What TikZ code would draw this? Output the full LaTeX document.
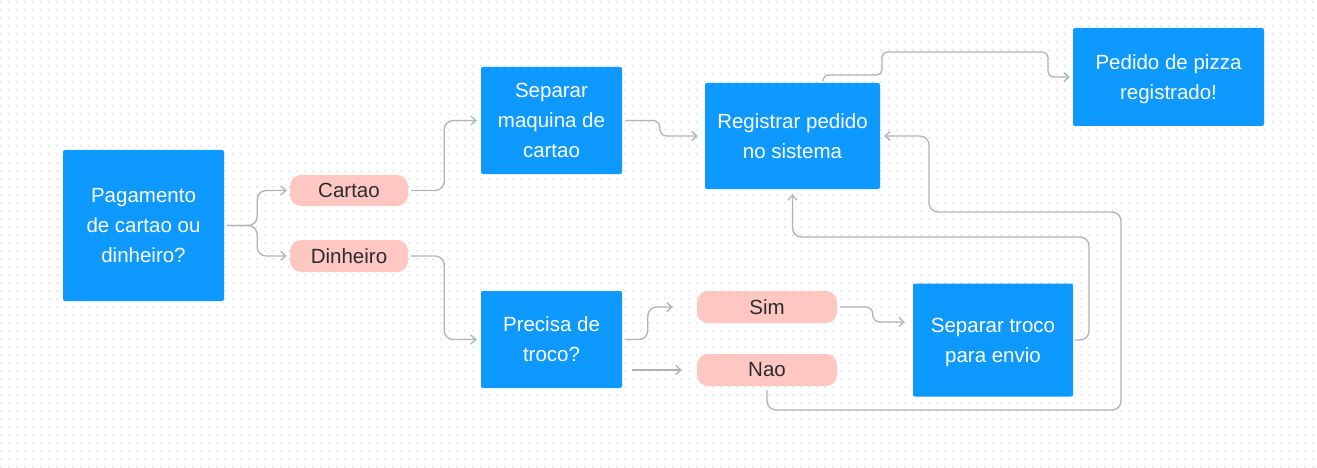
\documentclass[tikz,border=0pt]{standalone}
\usepackage{fontspec}
\setmainfont{Liberation Sans}
\usetikzlibrary{arrows.meta}
\definecolor{boxblue}{HTML}{0D99FF}
\definecolor{pillpink}{HTML}{FFC7C2}
\definecolor{conncol}{HTML}{B3B3B3}
\definecolor{dotcol}{HTML}{EBEBEB}
\definecolor{pilltext}{HTML}{2C2C2C}
\begin{document}
\begin{tikzpicture}[x=1pt,y=-1pt,
  bluebox/.style={fill=boxblue, text=white, rounded corners=2pt, inner sep=0pt, align=center, text depth=0pt, font=\fontsize{20.5}{30}\selectfont, execute at begin node={\rule{0pt}{22pt}}},
  pill/.style={fill=pillpink, text=pilltext, rounded corners=11pt, inner sep=0pt, font=\fontsize{20.5}{24}\selectfont},
  conn/.style={draw=conncol, line width=1.3pt, rounded corners=9pt, -{Straight Barb[length=5pt,width=9pt]}},
  dotrow/.style={draw=dotcol, line width=2pt, dash pattern=on 2pt off 6pt}
]
\useasboundingbox (0,0) rectangle (1317,468);
\fill[white] (0,0) rectangle (1317,468);
\foreach \j in {0,...,58} \draw[dotrow] (0,2.5+8*\j) -- (1317,2.5+8*\j);

\node[bluebox, minimum width=161pt, minimum height=151pt] (pag) at (143.5,225.5) {Pagamento\\de cartao ou\\dinheiro?};
\node[bluebox, minimum width=141pt, minimum height=107pt] (sepmaq) at (551.5,120.5) {Separar\\maquina de\\cartao};
\node[bluebox, minimum width=175pt, minimum height=106pt] (reg) at (792.5,136) {Registrar pedido\\no sistema};
\node[bluebox, minimum width=191pt, minimum height=98pt] (ped) at (1168.5,77) {Pedido de pizza\\registrado!};
\node[bluebox, minimum width=141pt, minimum height=97pt] (pre) at (551.5,339.5) {Precisa de\\troco?};
\node[bluebox, minimum width=160pt, minimum height=113pt] (st) at (993,340) {Separar troco\\para envio};
\node[pill, minimum width=118pt, minimum height=31pt] (car) at (349,190.5) {Cartao};
\node[pill, minimum width=118pt, minimum height=32pt] (din) at (349,256) {Dinheiro};
\node[pill, minimum width=140pt, minimum height=32pt] (sim) at (767,307) {Sim};
\node[pill, minimum width=140pt, minimum height=32pt] (nao) at (767,370) {Nao};

\draw[conn] ([xshift=3pt]pag.east) -- ++(30,0) |- ([xshift=-3pt]car.west);
\draw[conn] ([xshift=3pt]pag.east) -- ++(30,0) |- ([xshift=-3pt]din.west);
\draw[conn] ([xshift=3pt]car.east) -- ++(33,0) |- ([xshift=-4pt]sepmaq.west);
\draw[conn] ([xshift=3pt]din.east) -- ++(33,0) |- ([xshift=-4pt]pre.west);
\draw[conn, rounded corners=7pt] ([xshift=3pt]sepmaq.east) -| ([xshift=-45pt]reg.west) -- ([xshift=-7pt]reg.west);
\draw[conn, rounded corners=6pt] ([xshift=30.5pt,yshift=2pt]reg.north) |- (882,75) |- (1048,52) |- ([xshift=-3pt]ped.west);
\draw[conn] ([xshift=3pt]pre.east) -| ([xshift=-49pt]sim.west) -- ([xshift=-24pt]sim.west);
\draw[conn] ([xshift=10pt,yshift=-30.5pt]pre.east) -- ([xshift=-15pt]nao.west);
\draw[conn, rounded corners=7pt] ([xshift=3pt]sim.east) -| ([xshift=-40pt,yshift=18pt]st.west) -- ([xshift=-8pt,yshift=18pt]st.west);
\draw[conn] ([yshift=-4pt]nao.south) |- (1121,410) |- (929,212) |- ([xshift=4pt]reg.east);
\draw[conn] ([xshift=2pt]st.east) -| (1089,237) -| ([yshift=-5pt]reg.south);
\end{tikzpicture}
\end{document}
